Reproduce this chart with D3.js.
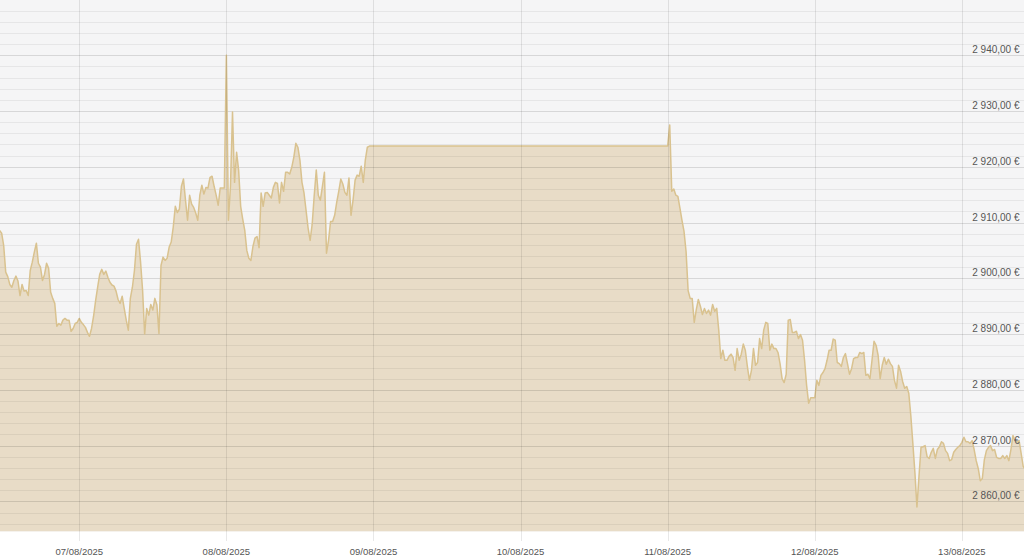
<!DOCTYPE html>
<html>
<head>
<meta charset="utf-8">
<script src="https://cdn.jsdelivr.net/npm/d3@7"></script>
<style>
  html, body { margin: 0; padding: 0; background: #fff; }
  #chart { width: 1024px; height: 560px; }
</style>
</head>
<body>
<div id="chart"></div>
<script>
// price per 20 min, friday session (06/08 11:00 -> 08/08 23:20)
var sessionAStart = "2025-08-06T11:00:00";
var pricesA = [
  2908.6, 2908.1, 2905.9, 2901.1, 2900.3, 2898.9, 2898.4, 2899.6, 2900.4, 2899.5,
  2896.9, 2898.9, 2897.7, 2897.8, 2896.9, 2901.4, 2902.9, 2904.7, 2906.3, 2902.7,
  2902.0, 2899.6, 2900.7, 2902.7, 2901.8, 2897.5, 2896.4, 2895.5, 2891.4, 2891.9,
  2891.6, 2892.5, 2892.8, 2892.5, 2892.5, 2890.5, 2891.0, 2891.9, 2892.1, 2892.8,
  2892.1, 2891.7, 2891.2, 2890.3, 2889.6, 2891.0, 2893.2, 2896.0, 2898.4, 2900.7,
  2901.6, 2900.7, 2901.3, 2900.2, 2899.3, 2898.8, 2898.6, 2897.7, 2896.2, 2895.5,
  2896.8, 2894.6, 2892.5, 2890.7, 2896.4, 2898.4, 2901.4, 2906.1, 2907.0, 2902.9,
  2897.8, 2890.0, 2894.6, 2893.4, 2895.3, 2894.3, 2896.4, 2895.2, 2890.1, 2902.3,
  2903.8, 2903.2, 2903.6, 2905.6, 2906.5, 2909.2, 2912.9, 2911.8, 2912.4, 2916.5,
  2917.8, 2914.0, 2910.4, 2914.9, 2913.3, 2912.7, 2911.7, 2910.4, 2914.9, 2916.7,
  2915.1, 2916.3, 2916.2, 2918.1, 2918.3, 2916.5, 2914.9, 2913.1, 2916.2, 2916.2,
  2916.2, 2940.0, 2910.4, 2916.5, 2929.8, 2917.2, 2922.6, 2919.4, 2912.9, 2910.6,
  2908.6, 2905.0, 2903.6, 2903.2, 2905.7, 2907.2, 2907.5, 2905.5, 2915.3, 2912.9,
  2915.3, 2915.4, 2914.9, 2914.4, 2916.3, 2917.2, 2917.0, 2913.5, 2917.2, 2915.6,
  2919.0, 2919.0, 2918.7, 2919.9, 2921.7, 2924.2, 2923.5, 2921.2, 2917.2, 2915.3,
  2912.2, 2909.0, 2906.8, 2909.7, 2914.9, 2919.4, 2914.9, 2914.0, 2916.5, 2919.0,
  2904.5, 2906.8, 2910.2, 2910.2, 2911.3, 2913.6, 2915.6, 2917.8, 2916.9, 2915.4,
  2914.9, 2918.0, 2911.3, 2914.0, 2917.6, 2918.5, 2918.3, 2920.1, 2917.2, 2921.2,
  2923.5, 2923.7
];
// monday session (11/08 00:00 -> 13/08 10:20)
var sessionBStart = "2025-08-11T00:00:00";
var pricesB = [
  2923.7, 2927.5, 2915.6, 2916.0, 2914.9, 2914.7, 2912.6, 2910.4, 2908.4, 2904.8,
  2897.8, 2896.4, 2896.4, 2892.1, 2894.4, 2896.2, 2895.0, 2893.5, 2894.6, 2893.7,
  2894.3, 2893.4, 2895.3, 2894.1, 2894.6, 2890.7, 2885.6, 2887.1, 2885.3, 2885.3,
  2886.0, 2886.4, 2885.8, 2883.5, 2887.4, 2885.3, 2886.4, 2888.2, 2887.1, 2884.2,
  2881.7, 2883.5, 2887.4, 2884.4, 2884.9, 2889.2, 2887.4, 2890.7, 2892.1, 2891.9,
  2887.1, 2888.2, 2887.4, 2887.4, 2886.7, 2884.7, 2882.0, 2881.3, 2882.8, 2892.5,
  2892.6, 2890.3, 2890.3, 2890.5, 2889.2, 2889.9, 2888.9, 2885.3, 2880.8, 2877.6,
  2878.6, 2878.6, 2878.6, 2881.7, 2880.8, 2882.6, 2883.1, 2883.8, 2885.3, 2887.1,
  2887.1, 2889.1, 2888.9, 2884.9, 2884.7, 2884.2, 2885.8, 2886.5, 2884.7, 2882.8,
  2883.8, 2885.6, 2885.8, 2885.8, 2886.7, 2886.5, 2886.7, 2882.6, 2882.8, 2882.0,
  2885.3, 2888.7, 2888.0, 2886.2, 2882.0, 2884.4, 2885.8, 2884.6, 2885.5, 2884.7,
  2884.2, 2881.7, 2880.3, 2884.4, 2883.3, 2881.5, 2880.3, 2880.6, 2879.4, 2875.4,
  2870.4, 2865.2, 2859.0, 2864.5, 2869.7, 2869.8, 2870.0, 2868.0, 2867.7, 2868.8,
  2869.5, 2867.7, 2869.3, 2869.8, 2870.7, 2870.4, 2869.1, 2868.6, 2867.3, 2867.5,
  2868.8, 2869.3, 2869.7, 2870.0, 2870.6, 2871.5, 2870.7, 2870.7, 2870.4, 2870.9,
  2869.3, 2867.3, 2865.9, 2863.7, 2864.1, 2867.5, 2869.1, 2869.7, 2870.0, 2869.1,
  2869.3, 2867.9, 2867.7, 2867.7, 2868.2, 2867.7, 2868.2, 2867.3, 2869.3, 2871.8,
  2870.9, 2870.6, 2870.9, 2868.6, 2866.3, 2865.7
];
var stepMinutes = 20;

var dateTicks = ["07/08/2025", "08/08/2025", "09/08/2025", "10/08/2025", "11/08/2025", "12/08/2025", "13/08/2025"];
var priceTicks = [2860, 2870, 2880, 2890, 2900, 2910, 2920, 2930, 2940];
var minorStep = 2;

class PriceChart {

  constructor(parent) {
    var viz = this;
    viz.div = d3.select(parent);
    viz.width = 1024;
    viz.height = 560;
    viz.plotBottom = 531.5;

    viz.svg = viz.div.append("svg")
      .attr("width", viz.width)
      .attr("height", viz.height)
      .style("display", "block");

    viz.x = d3.scaleTime()
      .domain([new Date("2025-08-06T11:04:00"), new Date("2025-08-13T10:08:00")])
      .range([0, viz.width]);
    viz.y = d3.scaleLinear()
      .domain([2854.6, 2949.9])
      .range([viz.plotBottom, 0]);

    var loc = d3.formatLocale({ decimal: ",", thousands: " ", grouping: [3], currency: ["", " €"] });
    viz.fmt = loc.format("$,.2f");
  }

  toSeries(start, values) {
    var t0 = new Date(start);
    return values.map(function(v, i) {
      return { date: d3.timeMinute.offset(t0, i * stepMinutes), value: v };
    });
  }

  draw() {
    var viz = this;
    var data = viz.toSeries(sessionAStart, pricesA).concat(viz.toSeries(sessionBStart, pricesB));

    viz.svg.append("defs").append("clipPath").attr("id", "plotclip")
      .append("rect").attr("x", 0).attr("y", 0).attr("width", viz.width).attr("height", viz.plotBottom);

    // plot background
    viz.svg.append("rect")
      .attr("x", 0).attr("y", 0)
      .attr("width", viz.width).attr("height", viz.plotBottom)
      .attr("fill", "#f5f5f6");

    var plot = viz.svg.append("g").attr("clip-path", "url(#plotclip)");

    var area = d3.area()
      .x(function(d) { return viz.x(d.date); })
      .y0(viz.plotBottom)
      .y1(function(d) { return viz.y(d.value); });
    var line = d3.line()
      .x(function(d) { return viz.x(d.date); })
      .y(function(d) { return viz.y(d.value); });

    plot.append("path")
      .datum(data)
      .attr("d", area)
      .attr("fill", "#e8dcc7");

    // horizontal grid, minor every 2 and major every 10
    var minor = d3.range(Math.ceil(viz.y.domain()[0] / minorStep) * minorStep, viz.y.domain()[1], minorStep)
      .filter(function(v) { return priceTicks.indexOf(v) < 0; });
    plot.append("g").selectAll("line")
      .data(minor)
      .enter().append("line")
      .attr("x1", 0).attr("x2", viz.width)
      .attr("y1", function(d) { return Math.round(viz.y(d)) + 0.5; })
      .attr("y2", function(d) { return Math.round(viz.y(d)) + 0.5; })
      .attr("stroke", "rgba(0,0,0,0.06)");
    plot.append("g").selectAll("line")
      .data(priceTicks)
      .enter().append("line")
      .attr("x1", 0).attr("x2", viz.width)
      .attr("y1", function(d) { return Math.round(viz.y(d)) + 0.5; })
      .attr("y2", function(d) { return Math.round(viz.y(d)) + 0.5; })
      .attr("stroke", "rgba(0,0,0,0.12)");

    // day lines
    var parseDay = d3.timeParse("%d/%m/%Y");
    viz.svg.append("g").selectAll("line")
      .data(dateTicks)
      .enter().append("line")
      .attr("x1", function(d) { return Math.round(viz.x(parseDay(d))) + 0.5; })
      .attr("x2", function(d) { return Math.round(viz.x(parseDay(d))) + 0.5; })
      .attr("y1", 0).attr("y2", 541)
      .attr("stroke", "rgba(0,0,0,0.09)");

    plot.append("path")
      .datum(data)
      .attr("d", line)
      .attr("fill", "none")
      .attr("stroke", "#d9c28f")
      .attr("stroke-width", 1.5)
      .attr("stroke-linejoin", "round");

    // labels
    viz.svg.append("g")
      .style("font", "10px 'Liberation Sans', Arial, sans-serif")
      .attr("fill", "#555")
      .attr("text-anchor", "end")
      .selectAll("text")
      .data(priceTicks)
      .enter().append("text")
      .attr("x", 1019.5)
      .attr("y", function(d) { return viz.y(d) - 2; })
      .text(function(d) { return viz.fmt(d); });

    viz.svg.append("g")
      .style("font", "9.5px 'Liberation Sans', Arial, sans-serif")
      .attr("fill", "#555")
      .attr("text-anchor", "middle")
      .selectAll("text")
      .data(dateTicks)
      .enter().append("text")
      .attr("x", function(d) { return viz.x(parseDay(d)); })
      .attr("y", 555)
      .text(function(d) { return d; });
  }
}

var chart = new PriceChart("#chart");
chart.draw();
</script>
</body>
</html>
